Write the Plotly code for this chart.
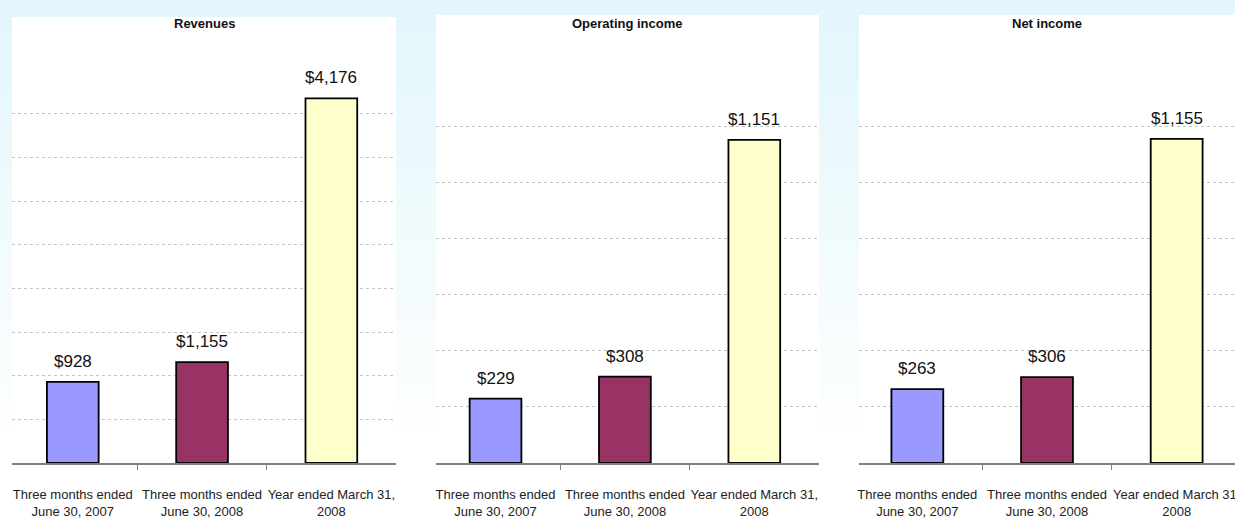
import plotly.graph_objects as go

# ---- data ----
categories = ["Three months ended<br>June 30, 2007",
              "Three months ended<br>June 30, 2008",
              "Year ended March 31,<br>2008"]
panel_titles = ["Revenues", "Operating income", "Net income"]
revenues = [928, 1155, 4176]
operating_income = [229, 308, 1151]
net_income = [263, 306, 1155]
series = [revenues, operating_income, net_income]
y_max = [4500, 1400, 1400]
y_step = [500, 200, 200]

bar_colors = ["#9999FF", "#993366", "#FFFFCC"]

W, H = 1235, 522
FONT = "Liberation Sans, Arial, sans-serif"

# panel geometry in pixels
panels_px = [(12, 396), (436, 819), (859, 1235)]
panel_tops = [17, 15, 15]
x_ranges = [[-0.47, 2.5], [-0.46, 2.5], [-0.45, 2.45]]
axis_y_px = 463
top_y_px = 70

fig = go.Figure()

shapes = []
# background gradient (light cyan at top to white)
n = 30
grad_end = 460
c0 = (226, 246, 251)
for i in range(n):
    t = i / (n - 1)
    r = int(round(c0[0] + (255 - c0[0]) * t))
    g = int(round(c0[1] + (255 - c0[1]) * t))
    b = int(round(c0[2] + (255 - c0[2]) * t))
    y0 = grad_end * i / n
    y1 = grad_end * (i + 1) / n + 1
    shapes.append(dict(type="rect", xref="paper", yref="paper", layer="below",
                       x0=0, x1=1, y0=1 - y1 / H, y1=1 - y0 / H,
                       fillcolor=f"rgb({r},{g},{b})", line=dict(width=0)))
# white panels
for (xa, xb), top in zip(panels_px, panel_tops):
    shapes.append(dict(type="rect", xref="paper", yref="paper", layer="below",
                       x0=xa / W, x1=xb / W, y0=0, y1=1 - top / H,
                       fillcolor="white", line=dict(width=0)))

annotations = []
ydom = [(H - axis_y_px) / H, (H - top_y_px) / H]

for k in range(3):
    xa, xb = panels_px[k]
    ax_suffix = "" if k == 0 else str(k + 1)
    xname = "x" + ax_suffix
    yname = "y" + ax_suffix
    vals = series[k]
    fig.add_trace(go.Bar(
        x=list(range(len(categories))), y=vals,
        marker=dict(color=bar_colors, line=dict(color="black", width=1.8)),
        width=0.4, xaxis=xname, yaxis=yname, showlegend=False,
        hoverinfo="skip"))
    for i, v in enumerate(vals):
        annotations.append(dict(x=i, y=v, xref=xname, yref=yname,
                                text="$" + f"{v:,}", showarrow=False,
                                yanchor="bottom", yshift=9,
                                font=dict(family=FONT, size=17, color="#111111")))
    annotations.append(dict(x=(xa + xb) / 2 / W, y=1 - 24 / H, xref="paper", yref="paper",
                            text="<b>" + panel_titles[k] + "</b>", showarrow=False,
                            xanchor="center", yanchor="middle",
                            font=dict(family=FONT, size=13, color="#111111")))
    xaxis = dict(domain=[xa / W, xb / W], range=x_ranges[k], anchor=yname,
                 tickmode="array", tickvals=list(range(len(categories))),
                 ticktext=categories, ticks="", showgrid=False, zeroline=False,
                 showline=True, linecolor="#808080", linewidth=1.5,
                 tickangle=0, automargin=False, ticklabeloverflow="allow",
                 tickfont=dict(family=FONT, size=13, color="#222222"),
                 ticklabelstandoff=19,
                 minor=dict(tickmode="array", tickvals=[0.5, 1.5], ticks="outside",
                            ticklen=5, tickcolor="#808080", tickwidth=1, showgrid=False),
                 fixedrange=True)
    yaxis = dict(domain=ydom, range=[0, y_max[k]], anchor=xname,
                 tick0=0, dtick=y_step[k], showticklabels=False, ticks="",
                 showgrid=True, gridcolor="#C4C4C4", griddash="dot", gridwidth=1,
                 zeroline=False, showline=False, fixedrange=True, automargin=False)
    fig.update_layout(**{"xaxis" + ax_suffix: xaxis, "yaxis" + ax_suffix: yaxis})

fig.update_layout(width=W, height=H, margin=dict(l=0, r=0, t=0, b=0, pad=0),
                  paper_bgcolor="white", plot_bgcolor="rgba(0,0,0,0)",
                  shapes=shapes, annotations=annotations, bargap=0.6)

fig.write_html("out.html", config={"displayModeBar": False},
               post_script="document.body.style.margin='0';"
                           "document.body.style.overflow='hidden';")
